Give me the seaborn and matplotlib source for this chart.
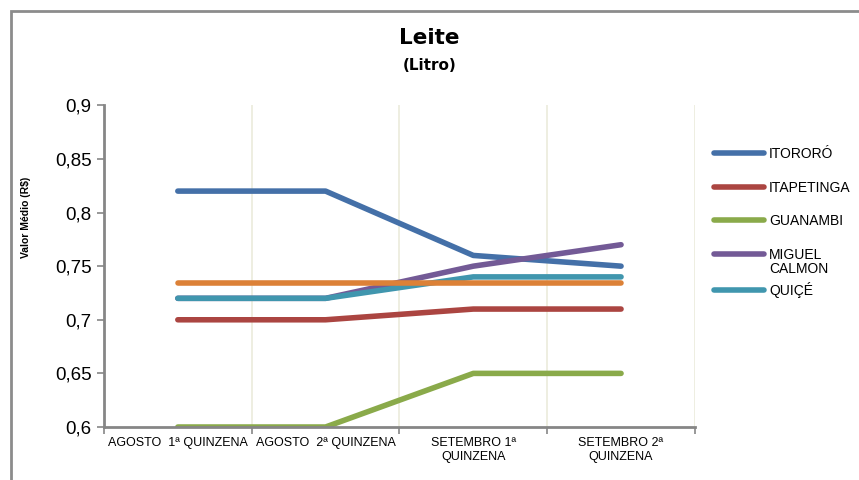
import numpy as np
import pandas as pd
import matplotlib
matplotlib.use("Agg")
import matplotlib.pyplot as plt
from matplotlib.patches import Rectangle
from matplotlib.ticker import FixedLocator, FuncFormatter
import seaborn as sns

### dados
quinzenas = ["AGOSTO  1ª QUINZENA", "AGOSTO  2ª QUINZENA",
             "SETEMBRO 1ª\nQUINZENA", "SETEMBRO 2ª\nQUINZENA"]
itororo = [0.82, 0.82, 0.76, 0.75]
itapetinga = [0.70, 0.70, 0.71, 0.71]
guanambi = [0.60, 0.60, 0.65, 0.65]
miguel_calmon = [0.72, 0.72, 0.75, 0.77]
quice = [0.72, 0.72, 0.74, 0.74]
media = [0.734, 0.734, 0.734, 0.734]

cidades = ["ITORORÓ", "ITAPETINGA", "GUANAMBI", "MIGUEL CALMON", "QUIÇÉ", "MÉDIA"]
series = [itororo, itapetinga, guanambi, miguel_calmon, quice, media]
cores = ["#4470a8", "#ab4541", "#8aaa4a", "#735a96", "#4096ae", "#dc8137"]

linhas = []
for nome, valores in zip(cidades, series):
    for i, v in enumerate(valores):
        linhas.append({"cidade": nome, "pos": i, "valor": v})
df = pd.DataFrame(linhas)

sns.set_style("white")
plt.rcParams["font.family"] = ["Liberation Sans", "DejaVu Sans"]
plt.rcParams["text.color"] = "black"
plt.rcParams["xtick.color"] = "black"
plt.rcParams["ytick.color"] = "black"

fig = plt.figure(figsize=(8.59, 4.8), dpi=100)
ax = fig.add_axes([0.121, 0.1104, 0.688, 0.6702])

# moldura do grafico
fig.patches.append(Rectangle((11 / 859, -0.1), 1.2, 1 - 11 / 480 + 0.1,
                             transform=fig.transFigure, fill=False,
                             edgecolor="#8c8c8c", linewidth=2))

sns.lineplot(data=df, x="pos", y="valor", hue="cidade", hue_order=cidades,
             palette=cores, linewidth=4, ax=ax, legend=False,
             solid_capstyle="round")

ax.set_xlim(-0.5, 3.5)
ax.set_ylim(0.6, 0.9)
ax.set_yticks(np.arange(0.6, 0.901, 0.05))
ax.yaxis.set_major_formatter(FuncFormatter(
    lambda v, p: ("%.2f" % v).rstrip("0").replace(".", ",")))
ax.xaxis.set_major_locator(FixedLocator([-0.5, 0.5, 1.5, 2.5, 3.5]))
ax.xaxis.set_major_formatter(FuncFormatter(lambda v, p: ""))
ax.xaxis.set_minor_locator(FixedLocator([0, 1, 2, 3]))
ax.set_xticklabels(quinzenas, minor=True)
ax.tick_params(axis="x", which="minor", length=0, pad=7, labelsize=9)
ax.tick_params(axis="x", which="major", length=5, width=1.2,
               color="#868686", direction="out", bottom=True)
ax.tick_params(axis="y", length=5, width=1.2, color="#868686",
               direction="out", left=True, labelsize=13.5, pad=4)
ax.grid(axis="x", which="major", color="#ebebdc", linewidth=1.2)
ax.grid(axis="y", visible=False)
for lado in ["top", "right"]:
    ax.spines[lado].set_visible(False)
for lado in ["left", "bottom"]:
    ax.spines[lado].set_color("#868686")
    ax.spines[lado].set_linewidth(2)
ax.set_xlabel("")
ax.set_ylabel("")

fig.text(26 / 859, 1 - 217 / 480, "Valor Médio (R$)", rotation=90,
         ha="center", va="center", fontsize=7.5, fontweight="bold",
         fontstretch="condensed")

fig.text(0.5, 1 - 38 / 480, "Leite", ha="center", va="center",
         fontsize=15.5, fontweight="bold", family="DejaVu Sans")
fig.text(0.5, 1 - 66 / 480, "(Litro)", ha="center", va="center",
         fontsize=11, fontweight="bold", family="DejaVu Sans")

# legenda (sem a linha laranja); "CALMON" quebra abaixo de "MIGUEL" como no Excel
rotulos = ["ITORORÓ", "ITAPETINGA", "GUANAMBI", "MIGUEL", "QUIÇÉ"]
handles = [plt.Line2D([], [], color=c, linewidth=4, solid_capstyle="round")
           for c in cores[:5]]
leg = fig.legend(handles, rotulos, loc="upper left",
                 bbox_to_anchor=(0.817, 0.72), frameon=False,
                 fontsize=10, handlelength=3.6, handletextpad=0.35,
                 labelspacing=1.42)
fig.canvas.draw()
bb = leg.get_texts()[3].get_window_extent().transformed(fig.transFigure.inverted())
fig.text(bb.x0, bb.y0, "CALMON", ha="left", va="top", fontsize=10)

fig.savefig("out.png", dpi=100)
